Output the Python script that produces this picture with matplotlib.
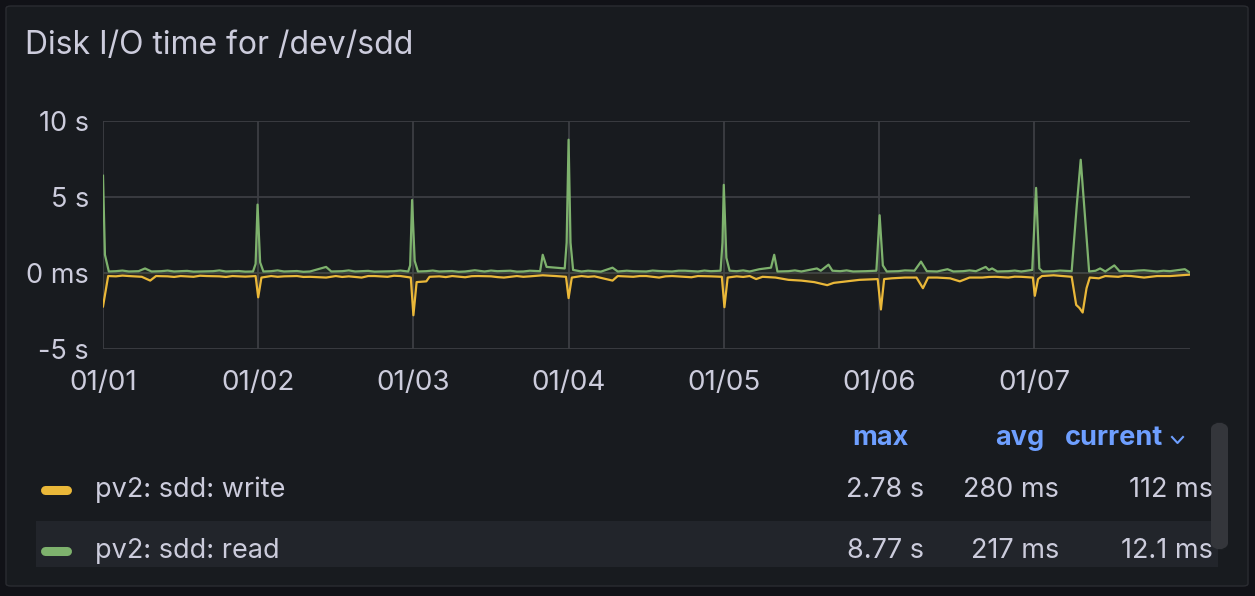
import matplotlib
matplotlib.use('Agg')
import matplotlib.pyplot as plt
from matplotlib.patches import FancyBboxPatch, Rectangle
from matplotlib.lines import Line2D

plt.rcParams['font.family'] = ['Inter', 'DejaVu Sans']

# hours since 01/01 00:00, values in seconds
read_hours = [0, 0.3, 0.9, 2, 3, 4, 5.5, 6.5, 7.5, 9, 10, 11, 13, 14, 15, 17, 18, 19, 21, 22, 23.2, 23.6, 23.9, 24.3, 24.8,
              26, 27, 28, 30, 31, 32, 34.5, 35.3, 37, 38, 39, 41, 42, 43, 45, 46, 47.2, 47.5, 47.8, 48.2, 48.7,
              50, 51, 52, 54, 55, 56, 57.5, 59, 60, 61, 63, 64, 65, 66, 67.6, 68.0, 68.6, 70, 71.4, 71.7, 72.0, 72.3, 72.7,
              74, 75, 76, 77, 78.8, 79.6, 81, 82, 84, 85, 86, 88, 89, 90, 92, 93, 94, 95.5, 95.8, 96.0, 96.4, 96.9,
              98, 99, 100, 101.5, 103.3, 103.8, 104.3, 106, 107, 108, 110.4, 111, 112.2, 112.8, 114, 115, 116, 118,
              119.6, 120.1, 120.6, 121.2, 123, 124, 125.5, 126.5, 127.4, 129, 130.6, 131.5, 133, 134, 135,
              136.5, 137, 137.5, 138.3, 140, 141, 142, 143.7, 144.3, 144.8, 145.3, 147, 148, 149.8, 150.6,
              151.2, 152.5, 153.5, 154.2, 155, 156.4, 157.2, 159, 160, 161, 163, 164, 165, 167.3, 168]
read_secs = [6.4, 1.2, 0.1, 0.12, 0.16, 0.1, 0.12, 0.3, 0.1, 0.12, 0.16, 0.1, 0.14, 0.09, 0.1, 0.12, 0.17, 0.1, 0.13, 0.09,
             0.1, 0.6, 4.5, 0.7, 0.1,
             0.12, 0.17, 0.1, 0.13, 0.08, 0.1, 0.4, 0.1, 0.12, 0.17, 0.1, 0.14, 0.09, 0.1, 0.12, 0.16, 0.1, 0.5, 4.8, 0.8, 0.1,
             0.12, 0.16, 0.1, 0.13, 0.08, 0.1, 0.18, 0.1, 0.16, 0.12, 0.15, 0.09, 0.1, 0.15, 0.12, 1.2, 0.4, 0.35, 0.3, 2.0,
             8.77, 2.0, 0.2,
             0.1, 0.15, 0.12, 0.09, 0.35, 0.1, 0.15, 0.12, 0.1, 0.16, 0.13, 0.1, 0.15, 0.15, 0.1, 0.16, 0.12, 0.15, 2.0, 5.8,
             1.0, 0.15,
             0.12, 0.17, 0.1, 0.25, 0.35, 1.2, 0.1, 0.12, 0.17, 0.1, 0.3, 0.15, 0.55, 0.15, 0.12, 0.17, 0.1, 0.12,
             0.15, 3.8, 0.5, 0.1, 0.12, 0.17, 0.15, 0.75, 0.12, 0.1, 0.25, 0.1, 0.12, 0.17, 0.12,
             0.4, 0.2, 0.3, 0.1, 0.12, 0.16, 0.1, 0.2, 5.6, 0.3, 0.1, 0.12, 0.16, 0.12, 4.5,
             7.45, 0.1, 0.15, 0.3, 0.1, 0.5, 0.12, 0.12, 0.16, 0.18, 0.1, 0.15, 0.12, 0.25, 0.05]

write_hours = [0, 0.8, 2, 3, 4, 6, 7.3, 8.2, 10, 11, 12, 14, 15, 16, 18, 19, 20, 22, 23.6, 24.0, 24.5,
               26, 27, 28, 30, 31, 32, 34.5, 36, 37, 38, 40, 41, 42, 44, 45, 46, 47.6, 48.0, 48.5, 50, 50.5,
               52, 53, 54, 56, 57, 58, 60, 61, 62, 64, 65, 66, 68, 70, 71.6, 72.0, 72.5, 74, 75, 76, 78.8, 79.6,
               82, 83, 84, 86, 87, 88, 90, 91, 92, 94, 95.7, 96.1, 96.6, 98, 99, 100, 101, 102, 104, 106, 108,
               110, 112, 113, 115, 117, 119.8, 120.3, 120.8, 122, 124, 125.8, 126.8, 127.6,
               129, 131, 132.5, 134, 136, 137, 138, 140, 141, 142, 143.8, 144.1, 144.6, 145.2, 147,
               149.8, 150.5, 151.0, 151.5, 152.1, 152.6, 154, 155, 157, 158, 159, 161, 163, 165, 168]
write_secs = [2.2, 0.2, 0.22, 0.17, 0.2, 0.25, 0.5, 0.2, 0.22, 0.26, 0.2, 0.25, 0.18, 0.2, 0.22, 0.26, 0.2, 0.24, 0.2, 1.6,
              0.3,
              0.2, 0.25, 0.22, 0.2, 0.26, 0.25, 0.3, 0.2, 0.26, 0.22, 0.3, 0.2, 0.2, 0.25, 0.18, 0.2, 0.3, 2.78, 0.6, 0.55, 0.25,
              0.22, 0.27, 0.2, 0.28, 0.21, 0.2, 0.22, 0.27, 0.3, 0.2, 0.25, 0.22, 0.15, 0.2, 0.25, 1.65, 0.3, 0.2, 0.25, 0.22,
              0.5, 0.2,
              0.25, 0.2, 0.2, 0.3, 0.22, 0.2, 0.25, 0.28, 0.2, 0.22, 0.25, 2.25, 0.3, 0.22, 0.26, 0.2, 0.4, 0.25, 0.3, 0.45,
              0.5,
              0.6, 0.8, 0.65, 0.55, 0.45, 0.4, 2.4, 0.4, 0.35, 0.3, 0.3, 1.0, 0.3,
              0.3, 0.35, 0.55, 0.3, 0.3, 0.26, 0.25, 0.3, 0.24, 0.25, 0.3, 1.5, 0.4, 0.2, 0.15,
              0.25, 2.1, 2.3, 2.6, 1.0, 0.3, 0.35, 0.2, 0.25, 0.18, 0.2, 0.3, 0.2, 0.2, 0.11]

day_ticks = [0, 24, 48, 72, 96, 120, 144]
day_labels = ['01/01', '01/02', '01/03', '01/04', '01/05', '01/06', '01/07']
y_ticks = [-5, 0, 5, 10]
y_labels = ['-5 s', '0 ms', '5 s', '10 s']

series_names = ['pv2: sdd: write', 'pv2: sdd: read']
series_colors = ['#EAB839', '#7EB26D']
stat_headers = ['max', 'avg', 'current']
stat_values = [['2.78 s', '280 ms', '112 ms'],
               ['8.77 s', '217 ms', '12.1 ms']]

W, H = 1255, 596
BG = '#181b1f'
TXT = '#ccccdc'
GRID = '#3c3e43'
FS = 19.5


def fx(x):
    return x / W


def fy(y):
    return 1 - y / H


fig = plt.figure(figsize=(W / 100, H / 100), dpi=100)
fig.patch.set_facecolor('#111217')

panel = FancyBboxPatch((fx(6), fy(586)), fx(1242), 580 / H, boxstyle='round,pad=0,rounding_size=0.004',
                       transform=fig.transFigure, facecolor=BG, edgecolor='#2a2c31', linewidth=1, zorder=-10)
fig.patches.append(panel)

fig.text(fx(25), fy(45), 'Disk I/O time for /dev/sdd', color=TXT, fontsize=23,
         va='center', ha='left')

ax = fig.add_axes([fx(103), fy(349), fx(1190 - 103), (349 - 121) / H])
ax.set_facecolor(BG)
ax.set_xlim(0, 168.1)
ax.set_ylim(-5, 10)
for s in ax.spines.values():
    s.set_visible(False)
ax.set_xticks(day_ticks)
ax.set_xticklabels(day_labels)
ax.set_yticks(y_ticks)
ax.set_yticklabels(y_labels)
ax.tick_params(colors=TXT, labelsize=19.5, length=0)
ax.tick_params(axis='y', pad=10)
ax.tick_params(axis='x', labelsize=20, pad=15)
ax.grid(True, color=GRID, linewidth=1.3)
ax.set_axisbelow(True)

write_neg = [-v for v in write_secs]
ax.fill_between(write_hours, write_neg, 0, color=series_colors[0], alpha=0.08, linewidth=0)
ax.fill_between(read_hours, read_secs, 0, color=series_colors[1], alpha=0.08, linewidth=0)
ax.plot(write_hours, write_neg, color=series_colors[0], linewidth=1.6)
ax.plot(read_hours, read_secs, color=series_colors[1], linewidth=1.6)

# legend table
HDR = '#6e9fff'
fig.text(fx(852), fy(438), stat_headers[0], color=HDR, fontsize=FS, fontweight='bold', va='center', ha='left')
fig.text(fx(995), fy(438), stat_headers[1], color=HDR, fontsize=FS, fontweight='bold', va='center', ha='left')
fig.text(fx(1065), fy(438), stat_headers[2], color=HDR, fontsize=FS, fontweight='bold', va='center', ha='left')
fig.lines.append(Line2D([fx(1172), fx(1177.5), fx(1183)], [fy(437), fy(443), fy(437)], color=HDR,
                        linewidth=1.5, transform=fig.transFigure))

fig.patches.append(Rectangle((fx(36), fy(567)), fx(1218 - 36), 46 / H, transform=fig.transFigure,
                             facecolor='#22252b', edgecolor='none', zorder=-5))
fig.patches.append(FancyBboxPatch((fx(1211), fy(550)), fx(17), 128 / H,
                                  boxstyle='round,pad=0,rounding_size=0.012', transform=fig.transFigure,
                                  facecolor='#34363b', edgecolor='none'))

row_y = [490, 551]
col_right = [924, 1059, 1213]
for i in range(2):
    y = row_y[i]
    fig.lines.append(Line2D([fx(45), fx(67)], [fy(y), fy(y)], color=series_colors[i], linewidth=6.5,
                            solid_capstyle='round', transform=fig.transFigure))
    fig.text(fx(95), fy(y), series_names[i], color=TXT, fontsize=FS, va='center', ha='left')
    for j in range(3):
        fig.text(fx(col_right[j]), fy(y), stat_values[i][j], color=TXT, fontsize=FS,
                 va='center', ha='right')

fig.savefig('out.png', dpi=100, facecolor=fig.get_facecolor())
